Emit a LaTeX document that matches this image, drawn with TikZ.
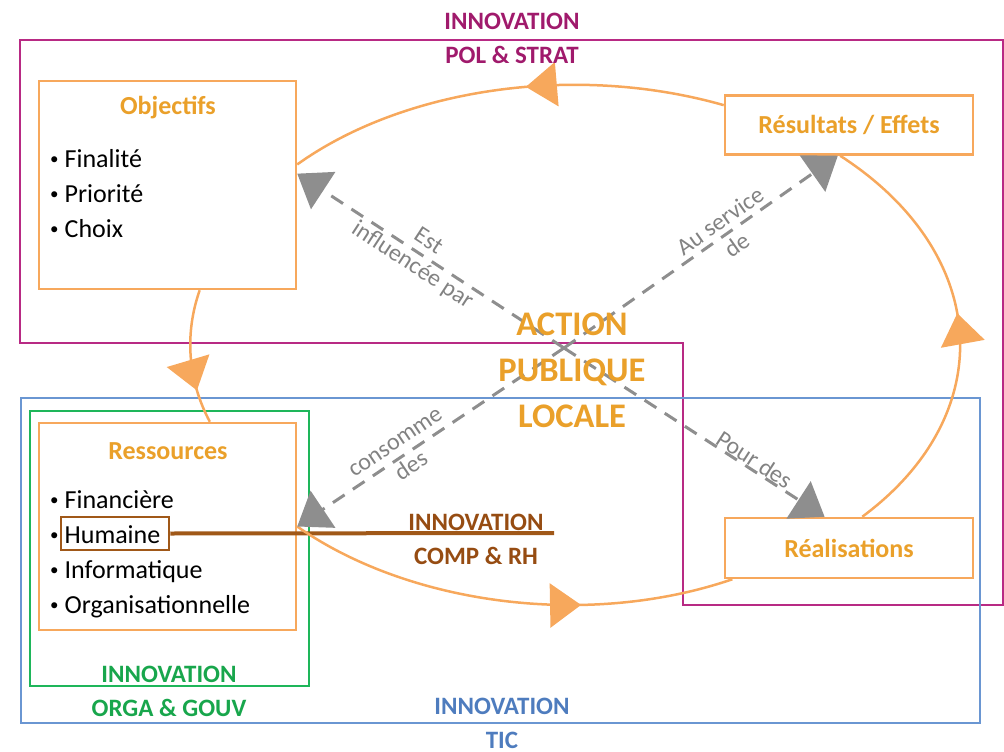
\documentclass[tikz,border=0pt]{standalone}
\usepackage{fontspec}
\setmainfont{Carlito}
\usetikzlibrary{arrows.meta,decorations.markings}
\definecolor{boxorange}{RGB}{247,168,92}
\definecolor{titorange}{RGB}{234,160,42}
\definecolor{polline}{RGB}{184,42,132}
\definecolor{poltext}{RGB}{160,26,108}
\definecolor{ticline}{RGB}{106,150,210}
\definecolor{tictext}{RGB}{78,124,190}
\definecolor{orgline}{RGB}{30,182,90}
\definecolor{orgtext}{RGB}{24,166,76}
\definecolor{rhline}{RGB}{160,88,24}
\definecolor{rhtext}{RGB}{150,76,18}
\definecolor{linkgray}{RGB}{142,142,142}
\definecolor{labgray}{RGB}{130,130,130}
\newcommand{\setfs}[2]{\fontsize{#1}{#2}\selectfont}
\newcommand{\itembul}{\raisebox{3pt}{\setfs{17}{17}\textbullet}\hspace{6pt}}

\begin{document}
\begin{tikzpicture}[x=1pt,y=1pt,
    frame/.style={line width=2.5pt},
    box/.style={draw=boxorange, line width=2.5pt, inner sep=0pt},
    head/.style={text=titorange, font=\bfseries\setfs{26}{31}},
    item/.style={anchor=base west, inner sep=0pt, font=\setfs{26}{31}},
    tag/.style={align=center, font=\bfseries\setfs{25}{34}},
    cyc/.style={boxorange, line width=2.5pt},
    midarrow/.style={postaction={decorate}, decoration={markings, mark=at position #1 with {\arrow{Triangle[length=31pt,width=44pt]}}}},
    link/.style={linkgray, line width=3pt, dash pattern=on 14pt off 10pt, -{Triangle[length=31pt,width=44pt]}},
    lbl/.style={text=labgray, sloped, align=center, font=\setfs{24}{29}}]
  \useasboundingbox (0,0) rectangle (1004,-752);

  \draw[frame, polline] (20,-40) -- (1003,-40) -- (1003,-605) -- (683,-605) -- (683,-343) -- (20,-343) -- cycle;
  \draw[frame, ticline] (21,-398) rectangle (980,-723);
  \draw[frame, orgline] (30,-411) rectangle (309,-686);

  \node[box, minimum width=257pt, minimum height=208pt] (obj) at (167.5,-185) {};
  \node[head] (objt) at (168,-108) {Objectifs};
  \foreach \t [count=\i] in {Finalité,Priorité,Choix}
    \node[item] (obj-\i) at (50,-132-35*\i) {\itembul\t};

  \node[box, minimum width=257pt, minimum height=207pt] (ress) at (167.5,-526.5) {};
  \node[head] (resst) at (168,-451) {Ressources};
  \foreach \t [count=\i] in {Financière,Humaine,Informatique,Organisationnelle}
    \node[item] (ress-\i) at (50,-473-35*\i) {\itembul\t};

  \node[box, head, minimum width=248pt, minimum height=59pt] (res) at (849,-125) {Résultats / Effets};
  \node[box, head, minimum width=248pt, minimum height=60pt] (real) at (849,-548) {Réalisations};

  \node[draw=rhline, line width=2.5pt, minimum width=108pt, minimum height=33pt, inner sep=0pt] (hum) at (115,-533.5) {};
  \coordinate (rhend) at (554,-533);
  \draw[rhline, line width=4pt] (hum.east) -- (rhend);

  \draw[cyc, midarrow=0.45] (res.171) .. controls (576,-63) and (404,-88) .. (obj.9);
  \draw[cyc, midarrow=0.75] (obj.-73) .. controls (184.5,-333.6) and (187.5,-379.8) .. (ress.68);
  \draw[cyc, midarrow=0.66] (ress.east) .. controls (411,-606) and (590,-628) .. (real.195);
  \draw[cyc, midarrow=0.54] (real.67) .. controls (1001,-414) and (991,-253) .. (res.-106);

  \coordinate (ctr) at (564,-348);
  \draw[link] (ctr) -- node[lbl, pos=0.54] {Est\\influencée par} (obj.5);
  \draw[link] (ctr) -- node[lbl, pos=0.6] {Au service\\de} (res.-110);
  \draw[link] (ctr) -- node[lbl, pos=0.6] {consomme\\des} (ress.east);
  \draw[link] (ctr) -- node[lbl, pos=0.71, above, inner sep=0pt] {Pour des} (real.128);

  \node[tag, text=poltext] (pol) at (512,-38) {INNOVATION\\POL \& STRAT};
  \node[tag, text=orgtext] (org) at (169,-691.5) {INNOVATION\\ORGA \& GOUV};
  \node[tag, text=tictext] (tic) at (502,-723.5) {INNOVATION\\TIC};
  \node[tag, text=rhtext] (rh) at (476,-539.5) {INNOVATION\\COMP \& RH};
  \node[align=center, text=titorange, font=\bfseries\setfs{34.5}{46}] (apl) at (572,-370.5) {ACTION\\PUBLIQUE\\LOCALE};
\end{tikzpicture}
\end{document}
